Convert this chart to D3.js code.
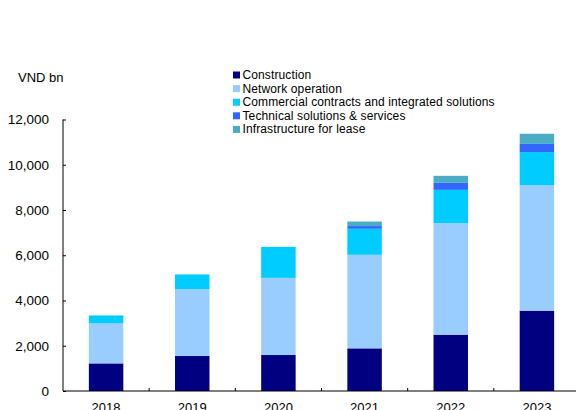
<!DOCTYPE html>
<html>
<head>
<meta charset="utf-8">
<script src="https://cdn.jsdelivr.net/npm/d3@7"></script>
<style>
  body { margin: 0; background: #fff; }
  svg { display: block; font-family: "Liberation Sans", Arial, sans-serif; }
</style>
</head>
<body>
<div id="chart"></div>
<script>
const years = ["2018", "2019", "2020", "2021", "2022", "2023"];
const seriesNames = [
  "Construction",
  "Network operation",
  "Commercial contracts and integrated solutions",
  "Technical solutions & services",
  "Infrastructure  for lease"
];
const construction = [1220, 1546, 1590, 1885, 2490, 3550];
const network = [1770, 2960, 3410, 4135, 4930, 5550];
const commercial = [350, 645, 1370, 1150, 1470, 1460];
const technical = [0, 0, 0, 120, 310, 360];
const infrastructure = [0, 0, 0, 200, 310, 450];
const yTicks = [0, 2000, 4000, 6000, 8000, 10000, 12000];
const colors = ["#000080", "#99ccff", "#00ccff", "#3366ff", "#4bacc6"];

const width = 576, height = 410;
const allSeries = [construction, network, commercial, technical, infrastructure];
const table = years.map((y, i) => {
  const row = {year: y};
  seriesNames.forEach((n, j) => row[n] = allSeries[j][i]);
  return row;
});

const svg = d3.select("#chart").append("svg")
    .attr("width", width)
    .attr("height", height);

const x = d3.scaleBand()
    .domain(years)
    .range([63, 580])
    .paddingInner(0.6)
    .paddingOuter(0.3);

const y = d3.scaleLinear()
    .domain([0, 12000])
    .range([391, 119.5]);

const stack = d3.stack().keys(seriesNames);
const layers = stack(table);

svg.append("g")
  .selectAll("g")
  .data(layers)
  .join("g")
    .attr("fill", (d, i) => colors[i])
  .selectAll("rect")
  .data(d => d.filter(p => p[1] - p[0] > 0))
  .join("rect")
    .attr("x", d => x(d.data.year))
    .attr("width", x.bandwidth())
    .attr("y", d => y(d[1]))
    .attr("height", d => y(d[0]) - y(d[1]));

// y axis
const yAxis = svg.append("g")
    .attr("transform", "translate(63,0)")
    .call(d3.axisRight(y).tickValues(yTicks).tickSize(3).tickFormat(d3.format(",")));
yAxis.select(".domain").attr("d", "M0," + y(12000) + "V" + y(0)).attr("stroke", "#000");
yAxis.selectAll("text")
    .attr("x", -14)
    .attr("text-anchor", "end")
    .attr("font-size", 13.5)
    .attr("fill", "#000");

// x axis
const step = x.step();
const bounds = years.slice(1).map(d => x(d) - (step - x.bandwidth()) / 2);
const xg = svg.append("g");
xg.append("line")
    .attr("x1", 63).attr("x2", 580)
    .attr("y1", y(0)).attr("y2", y(0))
    .attr("stroke", "#000");
xg.selectAll(".tick")
  .data(bounds)
  .join("line")
    .attr("x1", d => d).attr("x2", d => d)
    .attr("y1", y(0)).attr("y2", y(0) - 3)
    .attr("stroke", "#000");
xg.selectAll("text")
  .data(years)
  .join("text")
    .attr("x", d => x(d) + x.bandwidth() / 2)
    .attr("y", 412)
    .attr("text-anchor", "middle")
    .attr("font-size", 13)
    .text(d => d);

svg.append("text")
    .attr("x", 18)
    .attr("y", 82)
    .attr("font-size", 13)
    .text("VND bn");

// legend
const legend = svg.append("g")
  .selectAll("g")
  .data(seriesNames)
  .join("g")
    .attr("transform", (d, i) => "translate(233," + (75 + i * 13.6) + ")");
legend.append("rect")
    .attr("x", 0).attr("y", -3.5)
    .attr("width", 7).attr("height", 7)
    .attr("fill", (d, i) => colors[i]);
legend.append("text")
    .attr("x", 9.5)
    .attr("y", 4)
    .attr("font-size", 12)
    .attr("letter-spacing", 0.12)
    .text(d => d);
</script>
</body>
</html>
